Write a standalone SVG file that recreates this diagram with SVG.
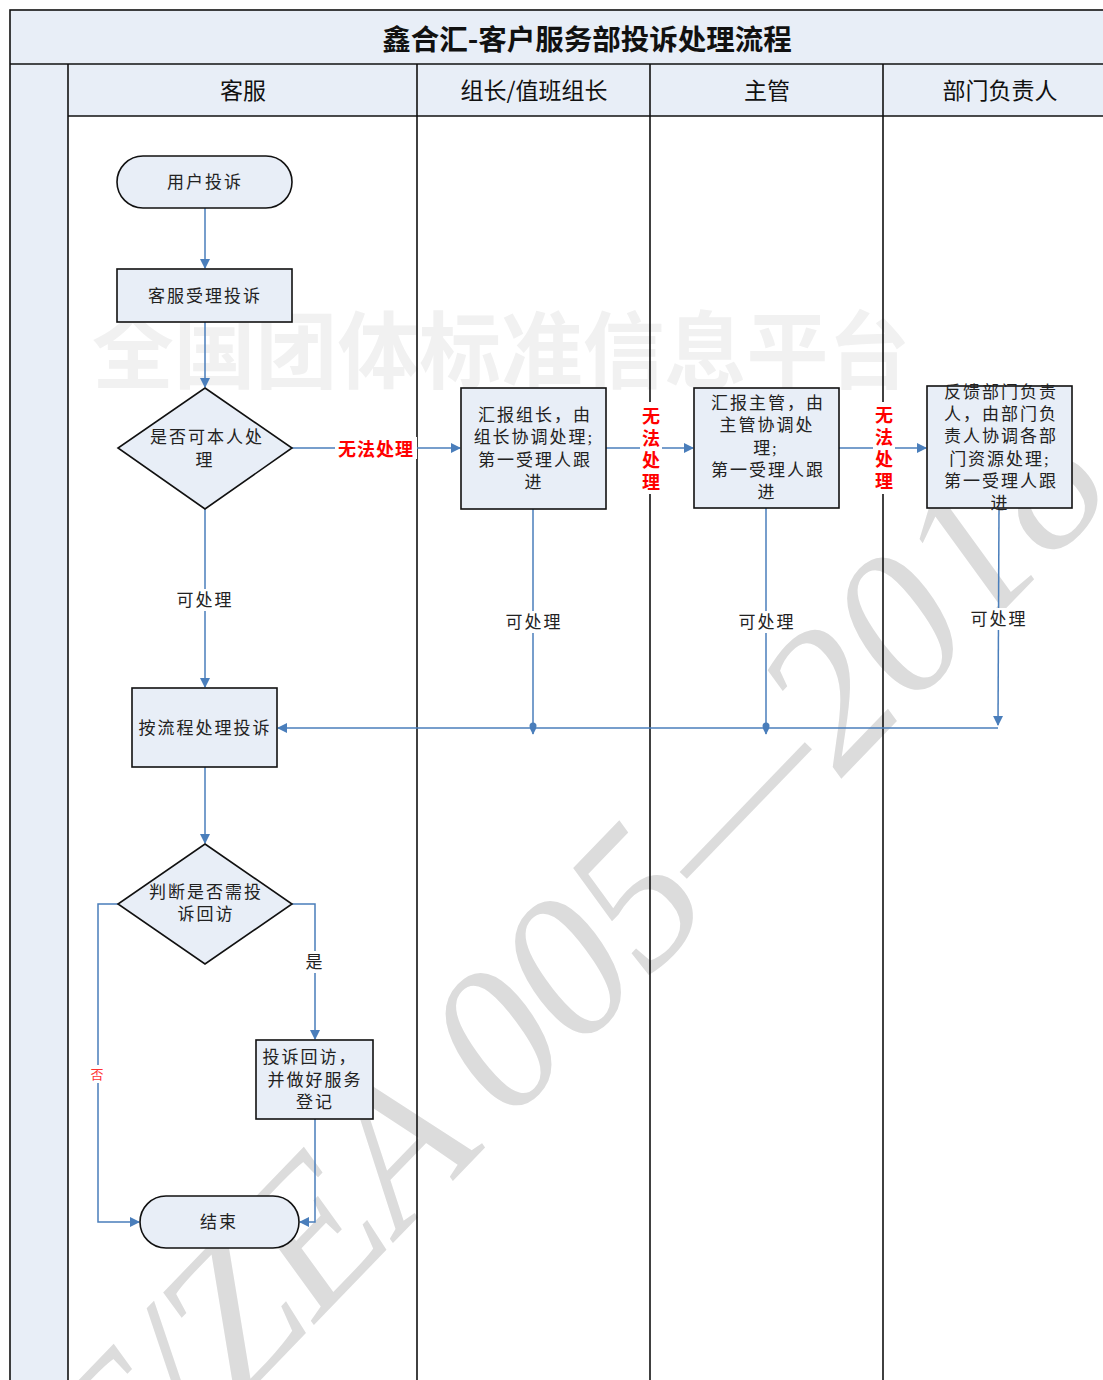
<svg xmlns="http://www.w3.org/2000/svg" width="1103" height="1380" viewBox="0 0 1103 1380">
<style>
.fill{fill:#e8eef7;stroke:none}
.div{stroke:#111;stroke-width:1.6;fill:none}
.node{fill:#e8eef7;stroke:#111;stroke-width:1.6}
.t{font-family:"Liberation Serif","Noto Sans CJK SC",serif;font-size:17px;fill:#222;text-anchor:middle;dominant-baseline:central;letter-spacing:2px}
.h{font-family:"Noto Sans CJK SC",sans-serif;font-size:23px;fill:#111;text-anchor:middle;dominant-baseline:central}
.red{font-family:"Noto Sans CJK SC",sans-serif;font-size:18px;font-weight:bold;fill:#ff0000;text-anchor:middle;dominant-baseline:central}
.c{stroke:#4a7ebb;stroke-width:1.5;fill:none}
.wm{font-family:"Noto Sans CJK SC",sans-serif;font-size:84px;font-weight:bold;fill:#f1f1f1}
.wm2{font-family:"Liberation Serif",serif;font-style:italic;font-size:200px;fill:#dcdcdc}
</style>
<defs>
<marker id="ah" viewBox="0 0 10 10" refX="9" refY="5" markerWidth="7" markerHeight="7" orient="auto" markerUnits="userSpaceOnUse">
<path d="M0,0 L10,5 L0,10 z" fill="#4a7ebb"/>
</marker>
<marker id="ah2" viewBox="0 0 10 10" refX="9" refY="5" markerWidth="10" markerHeight="10" orient="auto" markerUnits="userSpaceOnUse">
<path d="M0,0 L10,5 L0,10 z" fill="#4a7ebb"/>
</marker>
</defs>
<rect width="1103" height="1380" fill="#ffffff"/>
<!-- lane fills -->
<g id="fills">
<rect class="fill" x="10" y="10" width="1100" height="54"/>
<rect class="fill" x="10" y="64" width="58" height="1330"/>
<rect class="fill" x="68" y="64" width="1042" height="52"/>
</g>
<!-- watermark -->
<g id="watermark">
<text class="wm" x="92" y="382" textLength="818" lengthAdjust="spacingAndGlyphs">全国团体标准信息平台</text>
<g transform="translate(112,1534) rotate(-46)">
<text class="wm2" x="15" y="0">T/ZEA</text>
<text class="wm2" x="572" y="0">005—2018</text>
</g>
</g>
<!-- frame lines -->
<g id="frame">
<rect x="10" y="10" width="1100" height="1390" fill="none" stroke="#111" stroke-width="1.6"/>
<line class="div" x1="10" y1="64" x2="1103" y2="64"/>
<line class="div" x1="68" y1="116" x2="1103" y2="116"/>
<line class="div" x1="68" y1="64" x2="68" y2="1380"/>
<line class="div" x1="417" y1="64" x2="417" y2="1380"/>
<line class="div" x1="650" y1="64" x2="650" y2="1380"/>
<line class="div" x1="883" y1="64" x2="883" y2="1380"/>
<text x="587" y="37" font-family="'Noto Sans CJK SC',sans-serif" font-size="28.5" font-weight="bold" fill="#111" text-anchor="middle" dominant-baseline="central">鑫合汇-客户服务部投诉处理流程</text>
<text class="h" x="243" y="89">客服</text>
<text class="h" x="534" y="89">组长/值班组长</text>
<text class="h" x="767" y="89">主管</text>
<text class="h" x="1000" y="89">部门负责人</text>
</g>
<!-- connectors -->
<g id="connectors">
<line class="c" x1="205" y1="208" x2="205" y2="268" marker-end="url(#ah2)"/>
<line class="c" x1="205" y1="322" x2="205" y2="387" marker-end="url(#ah2)"/>
<line class="c" x1="292" y1="448" x2="460" y2="448" marker-end="url(#ah2)"/>
<line class="c" x1="606" y1="448" x2="693" y2="448" marker-end="url(#ah2)"/>
<line class="c" x1="839" y1="448" x2="926" y2="448" marker-end="url(#ah2)"/>
<line class="c" x1="205" y1="509" x2="205" y2="687" marker-end="url(#ah2)"/>
<line class="c" x1="533" y1="509" x2="533" y2="734" marker-end="url(#ah)"/>
<line class="c" x1="766" y1="508" x2="766" y2="734" marker-end="url(#ah)"/>
<circle cx="533" cy="726" r="3.5" fill="#4a7ebb"/>
<circle cx="766" cy="726" r="3.5" fill="#4a7ebb"/>
<line class="c" x1="999" y1="508" x2="998" y2="725" marker-end="url(#ah2)"/>
<line class="c" x1="998" y1="728" x2="278" y2="728" marker-end="url(#ah2)"/>
<line class="c" x1="205" y1="767" x2="205" y2="843" marker-end="url(#ah2)"/>
<polyline class="c" points="292,904 315,904 315,1039" marker-end="url(#ah2)"/>
<polyline class="c" points="315,1119 315,1222 300,1222" marker-end="url(#ah2)"/>
<polyline class="c" points="118,904 98,904 98,1222 139,1222" marker-end="url(#ah2)"/>
<rect x="335" y="437" width="82" height="22" fill="#ffffff"/>
<text class="red" x="376" y="448" letter-spacing="1">无法处理</text>
<rect x="640" y="402" width="22" height="92" fill="#ffffff"/>
<text class="red" x="651" y="415">无</text>
<text class="red" x="651" y="437">法</text>
<text class="red" x="651" y="459">处</text>
<text class="red" x="651" y="481">理</text>
<rect x="873" y="402" width="22" height="92" fill="#ffffff"/>
<text class="red" x="884" y="414">无</text>
<text class="red" x="884" y="436">法</text>
<text class="red" x="884" y="458">处</text>
<text class="red" x="884" y="480">理</text>
<rect x="172" y="589" width="66" height="22" fill="#ffffff"/>
<text class="t" x="205" y="600">可处理</text>
<rect x="500" y="611" width="66" height="22" fill="#ffffff"/>
<text class="t" x="534" y="622">可处理</text>
<rect x="733" y="611" width="66" height="22" fill="#ffffff"/>
<text class="t" x="767" y="622">可处理</text>
<rect x="966" y="608" width="66" height="22" fill="#ffffff"/>
<text class="t" x="999" y="619">可处理</text>
<rect x="305" y="951" width="20" height="22" fill="#ffffff"/>
<text class="t" x="315" y="962" letter-spacing="0">是</text>
<rect x="90" y="1065" width="16" height="18" fill="#ffffff"/>
<text class="t" x="98" y="1074" letter-spacing="0" style="fill:#ff3333;font-size:13px">否</text>
</g>
<!-- nodes -->
<g id="n-start">
<rect class="node" x="117" y="156" width="175" height="52" rx="26"/>
<text class="t" x="205" y="182">用户投诉</text>
</g>
<g id="n-accept">
<rect class="node" x="117" y="269" width="175" height="53"/>
<text class="t" x="205" y="296">客服受理投诉</text>
</g>
<g id="n-dec1">
<polygon class="node" points="205,388 292,448 205,509 118,448"/>
<text class="t" x="207" y="437">是否可本人处</text>
<text class="t" x="205" y="460">理</text>
</g>
<g id="n-leader">
<rect class="node" x="461" y="388" width="145" height="121"/>
<text class="t" x="535" y="415">汇报组长，由</text>
<text class="t" x="534" y="437" letter-spacing="1">组长协调处理;</text>
<text class="t" x="535" y="460">第一受理人跟</text>
<text class="t" x="534" y="482">进</text>
</g>
<g id="n-super">
<rect class="node" x="694" y="388" width="145" height="120"/>
<text class="t" x="768" y="403">汇报主管，由</text>
<text class="t" x="767" y="425">主管协调处</text>
<text class="t" x="766" y="448">理;</text>
<text class="t" x="768" y="470">第一受理人跟</text>
<text class="t" x="767" y="492">进</text>
</g>
<g id="n-head">
<rect class="node" x="927" y="386" width="145" height="122"/>
<text class="t" x="1001" y="392">反馈部门负责</text>
<text class="t" x="1001" y="414">人，由部门负</text>
<text class="t" x="1001" y="436">责人协调各部</text>
<text class="t" x="1000" y="459">门资源处理;</text>
<text class="t" x="1001" y="481">第一受理人跟</text>
<text class="t" x="1000" y="503">进</text>
</g>
<g id="n-process">
<rect class="node" x="132" y="688" width="145" height="79"/>
<text class="t" x="205" y="728" letter-spacing="0.5">按流程处理投诉</text>
</g>
<g id="n-dec2">
<polygon class="node" points="205,844 292,904 205,964 118,904"/>
<text class="t" x="206" y="892">判断是否需投</text>
<text class="t" x="206" y="914">诉回访</text>
</g>
<g id="n-visit">
<rect class="node" x="256" y="1040" width="117" height="79"/>
<text class="t" x="310" y="1057" letter-spacing="1">投诉回访，</text>
<text class="t" x="315" y="1080" letter-spacing="1">并做好服务</text>
<text class="t" x="315" y="1102" letter-spacing="1">登记</text>
</g>
<g id="n-end">
<rect class="node" x="140" y="1196" width="159" height="52" rx="26"/>
<text class="t" x="219" y="1222">结束</text>
</g>
</svg>
